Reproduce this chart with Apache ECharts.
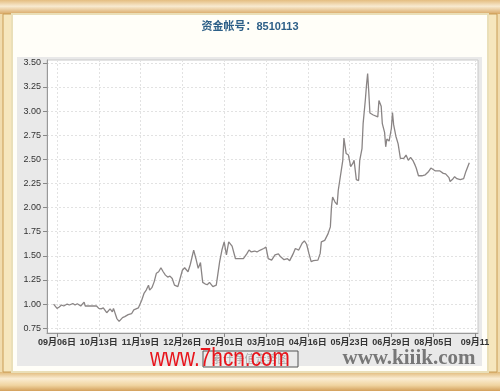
<!DOCTYPE html>
<html>
<head>
<meta charset="utf-8">
<script src="https://cdn.jsdelivr.net/npm/echarts@6/dist/echarts.min.js"></script>
<style>
html,body{margin:0;padding:0;background:#fff;}
#c{width:500px;height:391px;}
</style>
</head>
<body>
<div id="c"></div>
<script>
var titleText = '资金帐号：8510113';
var dates = ['2014-09-03','2014-09-06','2014-09-08','2014-09-10','2014-09-12','2014-09-15','2014-09-17','2014-09-20','2014-09-22','2014-09-24','2014-09-27','2014-09-30','2014-10-01','2014-10-11','2014-10-13','2014-10-15','2014-10-17','2014-10-20','2014-10-23','2014-10-25','2014-10-26','2014-10-29','2014-10-31','2014-11-03','2014-11-05','2014-11-08','2014-11-11','2014-11-13','2014-11-17','2014-11-20','2014-11-22','2014-11-24','2014-11-26','2014-11-27','2014-11-29','2014-12-01','2014-12-03','2014-12-05','2014-12-07','2014-12-09','2014-12-11','2014-12-13','2014-12-15','2014-12-17','2014-12-19','2014-12-22','2014-12-24','2014-12-26','2014-12-28','2014-12-31','2015-01-02','2015-01-05','2015-01-07','2015-01-09','2015-01-11','2015-01-13','2015-01-15','2015-01-17','2015-01-19','2015-01-22','2015-01-25','2015-01-28','2015-01-30','2015-02-01','2015-02-03','2015-02-05','2015-02-08','2015-02-11','2015-02-18','2015-02-21','2015-02-23','2015-02-25','2015-02-28','2015-03-02','2015-03-05','2015-03-08','2015-03-10','2015-03-12','2015-03-15','2015-03-18','2015-03-21','2015-03-23','2015-03-26','2015-03-29','2015-03-31','2015-04-03','2015-04-05','2015-04-08','2015-04-11','2015-04-13','2015-04-15','2015-04-17','2015-04-19','2015-04-21','2015-04-25','2015-04-27','2015-04-28','2015-05-01','2015-05-04','2015-05-06','2015-05-07','2015-05-08','2015-05-10','2015-05-12','2015-05-13','2015-05-14','2015-05-17','2015-05-18','2015-05-19','2015-05-20','2015-05-22','2015-05-24','2015-05-26','2015-05-27','2015-05-29','2015-05-31','2015-06-01','2015-06-03','2015-06-04','2015-06-06','2015-06-07','2015-06-08','2015-06-09','2015-06-10','2015-06-13','2015-06-17','2015-06-18','2015-06-20','2015-06-21','2015-06-23','2015-06-24','2015-06-25','2015-06-27','2015-06-29','2015-06-30','2015-07-01','2015-07-03','2015-07-05','2015-07-07','2015-07-10','2015-07-12','2015-07-14','2015-07-16','2015-07-18','2015-07-20','2015-07-21','2015-07-23','2015-07-26','2015-07-29','2015-08-01','2015-08-03','2015-08-04','2015-08-07','2015-08-11','2015-08-14','2015-08-16','2015-08-17','2015-08-19','2015-08-20','2015-08-22','2015-08-24','2015-08-26','2015-08-29','2015-09-01','2015-09-03','2015-09-06'];
var values = [1.00,0.955,0.97,0.99,0.98,1.00,0.99,1.006,0.99,1.003,0.98,1.02,0.98,0.98,0.955,0.95,0.96,0.91,0.95,0.92,0.955,0.85,0.82,0.86,0.87,0.89,0.90,0.94,0.96,1.04,1.11,1.145,1.196,1.145,1.17,1.23,1.32,1.335,1.376,1.335,1.30,1.28,1.29,1.265,1.196,1.18,1.265,1.35,1.376,1.335,1.41,1.56,1.47,1.37,1.43,1.225,1.21,1.20,1.225,1.18,1.196,1.44,1.56,1.645,1.51,1.645,1.60,1.47,1.47,1.52,1.56,1.54,1.55,1.54,1.56,1.576,1.59,1.47,1.455,1.51,1.52,1.49,1.46,1.47,1.45,1.52,1.576,1.56,1.63,1.655,1.62,1.525,1.44,1.45,1.455,1.525,1.645,1.66,1.73,1.80,2.01,2.11,2.06,2.03,2.18,2.20,2.49,2.72,2.735,2.56,2.545,2.425,2.46,2.49,2.29,2.28,2.49,2.61,2.87,3.12,3.27,3.39,3.20,2.98,2.96,2.94,3.11,3.05,2.87,2.78,2.63,2.71,2.69,2.82,2.985,2.86,2.74,2.66,2.51,2.51,2.545,2.49,2.52,2.49,2.44,2.41,2.33,2.33,2.34,2.375,2.41,2.39,2.38,2.38,2.355,2.35,2.36,2.31,2.27,2.29,2.32,2.30,2.29,2.30,2.375,2.465];
var xTickDates = ['2014-09-06','2014-10-13','2014-11-19','2014-12-26','2015-02-01','2015-03-10','2015-04-16','2015-05-23','2015-06-29','2015-08-05','2015-09-11'];
var xTickLabels = ['09月06日','10月13日','11月19日','12月26日','02月01日','03月10日','04月16日','05月23日','06月29日','08月05日','09月11'];
var yTickValues = [0.75,1.00,1.25,1.50,1.75,2.00,2.25,2.50,2.75,3.00,3.25,3.50];
var watermark1 = 'www.7hcn.com';
var watermark2 = 'www.kiiik.com';
var legendBoxText = '累计净值走势图';

function ts(s){ var p = s.split('-'); return Date.UTC(+p[0], +p[1]-1, +p[2]); }
var xTicks = xTickDates.map(ts);
var labelMap = {};
xTicks.forEach(function(t,i){ labelMap[t] = xTickLabels[i]; });
var seriesData = dates.map(function(d,i){ return [ts(d), values[i]]; });
var DAY = 86400000;

var chart = echarts.init(document.getElementById('c'), null, {renderer:'canvas'});
var option = {
  animation: false,
  backgroundColor: '#f1dcae',
  graphic: [
    {type:'rect', shape:{x:0,y:0,width:500,height:14}, style:{fill:new echarts.graphic.LinearGradient(0,0,0,1,[{offset:0,color:'#e4bd80'},{offset:0.45,color:'#f8ead0'},{offset:1,color:'#d9a865'}])}, z:-10},
    {type:'rect', shape:{x:0,y:372,width:500,height:19}, style:{fill:new echarts.graphic.LinearGradient(0,0,0,1,[{offset:0,color:'#e0b878'},{offset:0.35,color:'#faecd2'},{offset:0.7,color:'#f0d4a0'},{offset:1,color:'#d3a05c'}])}, z:-10},
    {type:'rect', shape:{x:3,y:14,width:9,height:358}, style:{fill:'#f6e6bd', stroke:'#c99c55', lineWidth:1}, z:-10},
    {type:'rect', shape:{x:488,y:14,width:9,height:358}, style:{fill:'#f6e6bd', stroke:'#c99c55', lineWidth:1}, z:-10},
    {type:'rect', shape:{x:12,y:14,width:476,height:358}, style:{fill:'#fffef8', stroke:'#eadfb8', lineWidth:2}, z:-9},
    {type:'rect', shape:{x:17,y:57,width:465,height:309}, style:{fill:'#e9e9e9'}, z:-8},
    {type:'text', left:'center', top:21, style:{text:titleText, fill:'#2d5f87', font:'bold 11px "Liberation Sans", "Noto Sans CJK SC", sans-serif'}, z:10},
    {type:'rect', shape:{x:203,y:351,width:95,height:16}, style:{fill:'#ececec', stroke:'#555', lineWidth:1}, z:5},
    {type:'text', x:250, y:359, style:{text:legendBoxText, fill:'#aaa', font:'11px "Noto Sans CJK SC", sans-serif', align:'center', verticalAlign:'middle'}, z:6},
    {type:'text', x:220, y:359, scaleX:0.8, originX:0, originY:0, style:{text:watermark1, fill:'#e8141b', font:'26px "Liberation Sans", sans-serif', align:'center', verticalAlign:'middle'}, z:7},
    {type:'text', x:409, y:359, style:{text:watermark2, fill:'#777', font:'bold 21px "Liberation Serif", "DejaVu Serif", serif', align:'center', verticalAlign:'middle'}, z:7}
  ],
  grid: {left:47, right:22, top:60, bottom:58, show:true, backgroundColor:'#ffffff', borderColor:'#c8c8c8', borderWidth:1},
  xAxis: {
    type:'value',
    min: ts('2014-09-06') - 8.85*DAY,
    max: ts('2015-09-11') + 2.7*DAY,
    axisLine:{show:true, onZero:false, lineStyle:{color:'#999', width:1}},
    axisTick:{show:true, customValues:xTicks, length:4, lineStyle:{color:'#888'}},
    axisLabel:{customValues:xTicks, interval:0, formatter:function(v){ return labelMap[v] || ''; }, color:'#333', fontSize:9, fontWeight:'bold', margin:5, fontFamily:'"Liberation Sans", "Noto Sans CJK SC", sans-serif', hideOverlap:false, showMaxLabel:true, showMinLabel:true},
    splitLine:{show:true, lineStyle:{color:'#e2e2e2', type:[2,2]}}
  },
  yAxis: {
    type:'value',
    min:0.70, max:3.53,
    axisLine:{show:true, lineStyle:{color:'#999', width:1}},
    axisTick:{show:true, customValues:yTickValues, length:4, lineStyle:{color:'#888'}},
    axisLabel:{customValues:yTickValues, formatter:function(v){ return v.toFixed(2); }, color:'#333', fontSize:9, margin:6, fontFamily:'"Liberation Sans", sans-serif'},
    splitLine:{show:true, lineStyle:{color:'#e2e2e2', type:[2,2]}}
  },
  series: [{
    type:'line',
    data: seriesData,
    showSymbol:false,
    symbol:'none',
    lineStyle:{color:'#8a8585', width:1.3},
    z:3
  }]
};
chart.setOption(option);
</script>
</body>
</html>
